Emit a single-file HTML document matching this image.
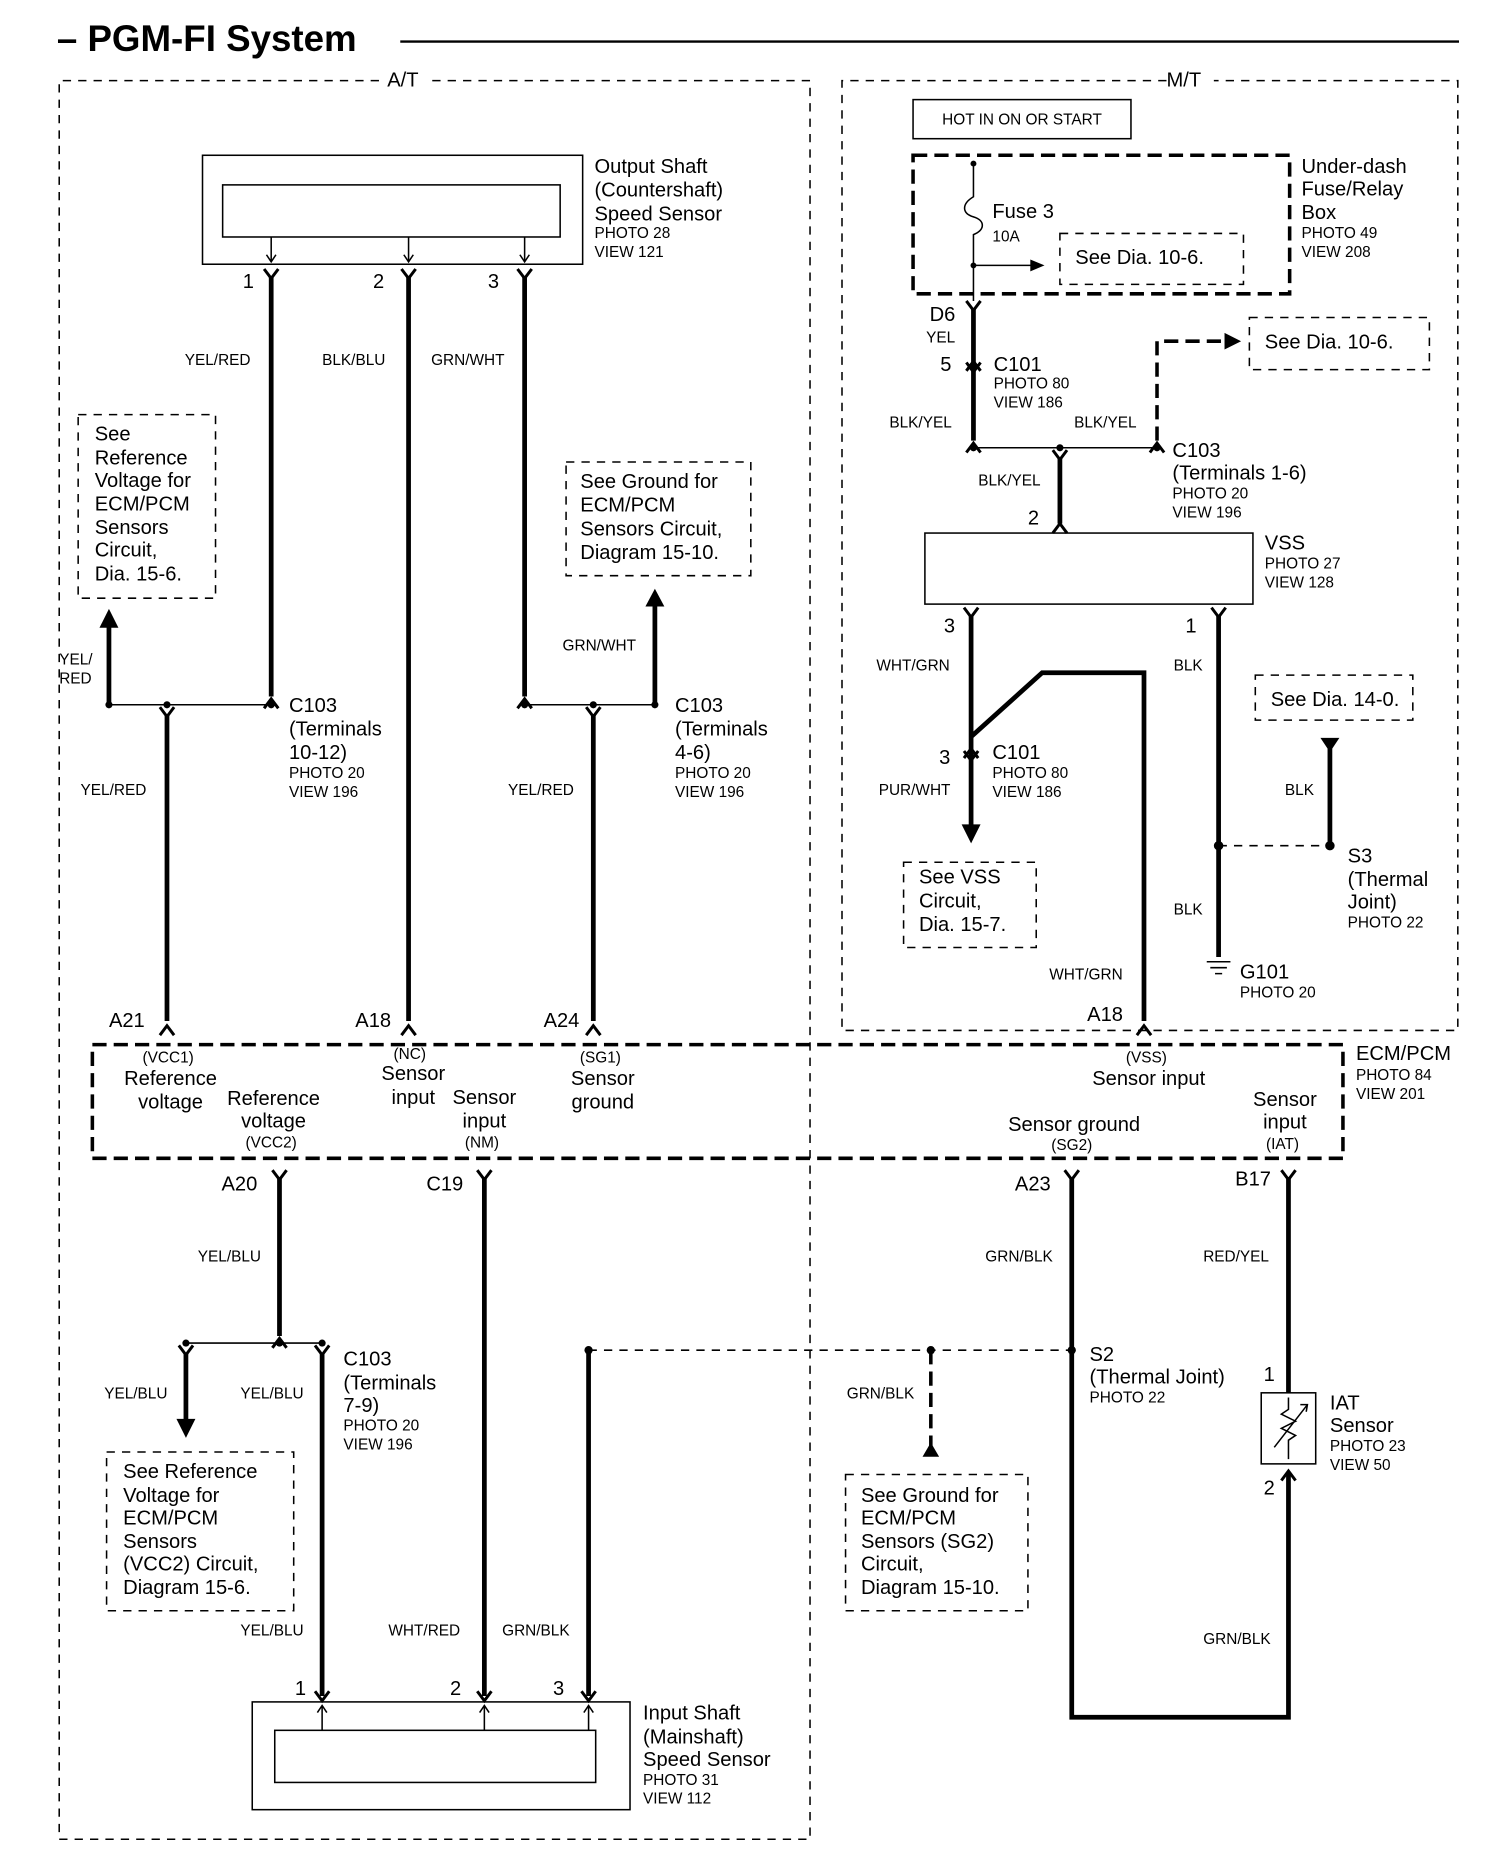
<!DOCTYPE html>
<html><head><meta charset="utf-8"><style>
html,body{margin:0;padding:0;background:#fff;}
svg{display:block;}
text{font-family:"Liberation Sans",Arial,sans-serif;fill:#000;}
.m{font-size:17px;}
.s{font-size:13px;}
.w{stroke:#000;stroke-width:4;fill:none;}
.t{stroke:#000;stroke-width:1.3;fill:none;}
.d{stroke:#000;stroke-width:1.3;fill:none;stroke-dasharray:7,6;}
.dt{stroke:#000;stroke-width:3;fill:none;stroke-dasharray:12,6;}
</style></head><body>
<svg width="1504" height="1856" viewBox="0 0 1270 1567" xmlns="http://www.w3.org/2000/svg">
<defs>
<g id="fk"><path d="M-6,-6 L0,2 L6,-6" stroke="#000" stroke-width="2.5" fill="none"/></g>
<g id="fu"><path d="M-6,6 L0,-2 L6,6" stroke="#000" stroke-width="2.5" fill="none"/></g>
</defs>
<text x="48" y="43" style="font-size:31px;font-weight:bold">– PGM-FI System</text>
<line x1="338" y1="35" x2="1232" y2="35" stroke="#000" stroke-width="2"/>
<path class="d" d="M320,68 L50,68 L50,1553 L684,1553 L684,68 L360,68"/>
<text x="327" y="73" class="m">A/T</text>
<path class="d" d="M985,68 L711,68 L711,870 L1231,870 L1231,68 L1025,68"/>
<text x="985" y="73" class="m">M/T</text>

<rect x="171" y="131" width="321" height="92" class="t" stroke-width="3"/>
<rect x="188" y="156" width="285" height="44" class="t" stroke-width="2"/>
<g class="t"><line x1="229" y1="200" x2="229" y2="221"/><line x1="345" y1="200" x2="345" y2="221"/><line x1="443" y1="200" x2="443" y2="221"/></g>
<path d="M225,215 L229,221 L233,215 M341,215 L345,221 L349,215 M439,215 L443,221 L447,215" class="t"/>
<text x="502" y="146" class="m">Output Shaft</text><text x="502" y="166" class="m">(Countershaft)</text><text x="502" y="186" class="m">Speed Sensor</text>
<text x="502" y="201" class="s">PHOTO 28</text><text x="502" y="217" class="s">VIEW 121</text>
<use href="#fk" x="229" y="233"/><use href="#fk" x="345" y="233"/><use href="#fk" x="443" y="233"/>
<text x="205" y="243" class="m">1</text><text x="315" y="243" class="m">2</text><text x="412" y="243" class="m">3</text>
<line class="w" x1="229" y1="233" x2="229" y2="588"/>
<line class="w" x1="345" y1="233" x2="345" y2="862"/>
<line class="w" x1="443" y1="233" x2="443" y2="588"/>
<text x="156" y="308" class="s">YEL/RED</text><text x="272" y="308" class="s">BLK/BLU</text><text x="364" y="308" class="s">GRN/WHT</text>
<use href="#fu" x="229" y="592"/><use href="#fu" x="443" y="592"/>

<line class="t" x1="92" y1="595" x2="229" y2="595"/>
<circle cx="92" cy="595" r="3"/><circle cx="141" cy="595" r="3"/><circle cx="229" cy="595" r="3"/>
<line class="w" x1="92" y1="595" x2="92" y2="528"/>
<path d="M84,530 L92,514 L100,530 Z"/>
<text x="50" y="561" class="s">YEL/</text><text x="50" y="577" class="s">RED</text>
<use href="#fk" x="141" y="603"/>
<line class="w" x1="141" y1="603" x2="141" y2="862"/>
<text x="68" y="671" class="s">YEL/RED</text>
<text x="244" y="601" class="m">C103</text><text x="244" y="621" class="m">(Terminals</text><text x="244" y="641" class="m">10-12)</text>
<text x="244" y="657" class="s">PHOTO 20</text><text x="244" y="673" class="s">VIEW 196</text>
<path class="d" d="M66,350 L182,350 L182,505 L66,505 Z"/>
<text x="80" y="372" class="m">See</text><text x="80" y="392" class="m">Reference</text><text x="80" y="411" class="m">Voltage for</text><text x="80" y="431" class="m">ECM/PCM</text><text x="80" y="451" class="m">Sensors</text><text x="80" y="470" class="m">Circuit,</text><text x="80" y="490" class="m">Dia. 15-6.</text>

<line class="t" x1="443" y1="595" x2="553" y2="595"/>
<circle cx="443" cy="595" r="3"/><circle cx="501" cy="595" r="3"/><circle cx="553" cy="595" r="3"/>
<line class="w" x1="553" y1="595" x2="553" y2="510"/>
<path d="M545,512 L553,497 L561,512 Z"/>
<text x="475" y="549" class="s">GRN/WHT</text>
<use href="#fk" x="501" y="603"/>
<line class="w" x1="501" y1="603" x2="501" y2="862"/>
<text x="429" y="671" class="s">YEL/RED</text>
<text x="570" y="601" class="m">C103</text><text x="570" y="621" class="m">(Terminals</text><text x="570" y="641" class="m">4-6)</text>
<text x="570" y="657" class="s">PHOTO 20</text><text x="570" y="673" class="s">VIEW 196</text>
<path class="d" d="M478,390 L634,390 L634,486 L478,486 Z"/>
<text x="490" y="412" class="m">See Ground for</text><text x="490" y="432" class="m">ECM/PCM</text><text x="490" y="452" class="m">Sensors Circuit,</text><text x="490" y="472" class="m">Diagram 15-10.</text>

<use href="#fu" x="141" y="868"/><use href="#fu" x="345" y="868"/><use href="#fu" x="501" y="868"/><use href="#fu" x="966" y="868"/>
<text x="92" y="867" class="m">A21</text><text x="300" y="867" class="m">A18</text><text x="459" y="867" class="m">A24</text><text x="918" y="862" class="m">A18</text>

<rect x="78" y="882" width="1056" height="96" class="dt"/>
<text x="142" y="897" class="s" text-anchor="middle">(VCC1)</text>
<text x="144" y="916" class="m" text-anchor="middle">Reference</text><text x="144" y="936" class="m" text-anchor="middle">voltage</text>
<text x="231" y="933" class="m" text-anchor="middle">Reference</text><text x="231" y="952" class="m" text-anchor="middle">voltage</text>
<text x="229" y="969" class="s" text-anchor="middle">(VCC2)</text>
<text x="346" y="894" class="s" text-anchor="middle">(NC)</text>
<text x="349" y="912" class="m" text-anchor="middle">Sensor</text><text x="349" y="932" class="m" text-anchor="middle">input</text>
<text x="409" y="932" class="m" text-anchor="middle">Sensor</text><text x="409" y="952" class="m" text-anchor="middle">input</text>
<text x="407" y="969" class="s" text-anchor="middle">(NM)</text>
<text x="507" y="897" class="s" text-anchor="middle">(SG1)</text>
<text x="509" y="916" class="m" text-anchor="middle">Sensor</text><text x="509" y="936" class="m" text-anchor="middle">ground</text>
<text x="968" y="897" class="s" text-anchor="middle">(VSS)</text>
<text x="970" y="916" class="m" text-anchor="middle">Sensor input</text>
<text x="907" y="955" class="m" text-anchor="middle">Sensor ground</text>
<text x="905" y="971" class="s" text-anchor="middle">(SG2)</text>
<text x="1085" y="934" class="m" text-anchor="middle">Sensor</text><text x="1085" y="953" class="m" text-anchor="middle">input</text>
<text x="1083" y="970" class="s" text-anchor="middle">(IAT)</text>
<text x="1145" y="895" class="m">ECM/PCM</text><text x="1145" y="912" class="s">PHOTO 84</text><text x="1145" y="928" class="s">VIEW 201</text>

<use href="#fk" x="236" y="994"/><use href="#fk" x="409" y="994"/><use href="#fk" x="905" y="994"/><use href="#fk" x="1088" y="994"/>
<text x="187" y="1005" class="m">A20</text><text x="360" y="1005" class="m">C19</text><text x="857" y="1005" class="m">A23</text><text x="1043" y="1001" class="m">B17</text>
<line class="w" x1="236" y1="994" x2="236" y2="1128"/>
<text x="167" y="1065" class="s">YEL/BLU</text>
<use href="#fu" x="236" y="1132"/>
<line class="t" x1="157" y1="1134" x2="272" y2="1134"/>
<circle cx="157" cy="1134" r="3"/><circle cx="236" cy="1134" r="3"/><circle cx="272" cy="1134" r="3"/>
<use href="#fk" x="157" y="1142"/><use href="#fk" x="272" y="1142"/>
<line class="w" x1="157" y1="1142" x2="157" y2="1200"/>
<path d="M149,1198 L157,1214 L165,1198 Z"/>
<text x="88" y="1181" class="s">YEL/BLU</text><text x="203" y="1181" class="s">YEL/BLU</text>
<path class="d" d="M90,1226 L248,1226 L248,1360 L90,1360 Z"/>
<text x="104" y="1248" class="m">See Reference</text><text x="104" y="1268" class="m">Voltage for</text><text x="104" y="1287" class="m">ECM/PCM</text><text x="104" y="1307" class="m">Sensors</text><text x="104" y="1326" class="m">(VCC2) Circuit,</text><text x="104" y="1346" class="m">Diagram 15-6.</text>
<line class="w" x1="272" y1="1142" x2="272" y2="1432"/>
<text x="203" y="1381" class="s">YEL/BLU</text>
<text x="290" y="1153" class="m">C103</text><text x="290" y="1173" class="m">(Terminals</text><text x="290" y="1192" class="m">7-9)</text>
<text x="290" y="1208" class="s">PHOTO 20</text><text x="290" y="1224" class="s">VIEW 196</text>
<line class="w" x1="409" y1="994" x2="409" y2="1432"/>
<text x="328" y="1381" class="s">WHT/RED</text>
<line class="w" x1="497" y1="1140" x2="497" y2="1432"/>
<text x="424" y="1381" class="s">GRN/BLK</text>
<line class="d" x1="497" y1="1140" x2="905" y2="1140"/>
<circle cx="497" cy="1140" r="3.5"/><circle cx="786" cy="1140" r="3.5"/><circle cx="905" cy="1140" r="3.5"/>
<line class="dt" x1="786" y1="1140" x2="786" y2="1222" stroke-width="4"/>
<path d="M779,1230 L786,1218 L793,1230 Z"/>
<text x="715" y="1181" class="s">GRN/BLK</text>
<path class="d" d="M714,1245 L868,1245 L868,1360 L714,1360 Z"/>
<text x="727" y="1268" class="m">See Ground for</text><text x="727" y="1287" class="m">ECM/PCM</text><text x="727" y="1307" class="m">Sensors (SG2)</text><text x="727" y="1326" class="m">Circuit,</text><text x="727" y="1346" class="m">Diagram 15-10.</text>

<use href="#fk" x="272" y="1434"/><use href="#fk" x="409" y="1434"/><use href="#fk" x="497" y="1434"/>
<text x="249" y="1431" class="m">1</text><text x="380" y="1431" class="m">2</text><text x="467" y="1431" class="m">3</text>
<rect x="213" y="1437" width="319" height="91" class="t" stroke-width="3"/>
<rect x="232" y="1461" width="271" height="44" class="t" stroke-width="2"/>
<path class="t" d="M272,1440 L272,1461 M409,1440 L409,1461 M497,1440 L497,1461 M268,1446 L272,1440 L276,1446 M405,1446 L409,1440 L413,1446 M493,1446 L497,1440 L501,1446"/>
<text x="543" y="1452" class="m">Input Shaft</text><text x="543" y="1472" class="m">(Mainshaft)</text><text x="543" y="1491" class="m">Speed Sensor</text>
<text x="543" y="1507" class="s">PHOTO 31</text><text x="543" y="1523" class="s">VIEW 112</text>

<path class="w" d="M905,994 L905,1450 L1088,1450 L1088,1244"/>
<text x="832" y="1065" class="s">GRN/BLK</text>
<text x="920" y="1149" class="m">S2</text><text x="920" y="1168" class="m">(Thermal Joint)</text><text x="920" y="1184" class="s">PHOTO 22</text>
<line class="w" x1="1088" y1="994" x2="1088" y2="1176"/>
<text x="1016" y="1065" class="s">RED/YEL</text>
<text x="1067" y="1166" class="m">1</text><text x="1067" y="1262" class="m">2</text>
<rect x="1065" y="1176" width="46" height="60" class="t" stroke-width="3"/>
<path class="t" d="M1088,1180 L1088,1190 L1082,1194 L1094,1200 L1082,1206 L1094,1212 L1088,1216 L1088,1232 M1076,1222 L1104,1186 M1098,1186 L1104,1186 L1103,1192" stroke-width="1.5"/>
<use href="#fu" x="1088" y="1244"/>
<text x="1016" y="1388" class="s">GRN/BLK</text>
<text x="1123" y="1190" class="m">IAT</text><text x="1123" y="1209" class="m">Sensor</text><text x="1123" y="1225" class="s">PHOTO 23</text><text x="1123" y="1241" class="s">VIEW 50</text>

<rect x="771" y="84" width="184" height="33" class="t" stroke-width="2"/>
<text x="863" y="105" class="s" text-anchor="middle">HOT IN ON OR START</text>
<rect x="771" y="131" width="318" height="117" class="dt"/>
<text x="1099" y="146" class="m">Under-dash</text><text x="1099" y="165" class="m">Fuse/Relay</text><text x="1099" y="185" class="m">Box</text>
<text x="1099" y="201" class="s">PHOTO 49</text><text x="1099" y="217" class="s">VIEW 208</text>
<circle cx="822" cy="138" r="2.5"/>
<path class="t" d="M822,138 L822,166 C812,172 812,180 822,183 C832,186 832,194 822,198 L822,254" stroke-width="1.6"/>
<text x="838" y="184" class="m">Fuse 3</text><text x="838" y="204" class="s">10A</text>
<circle cx="822" cy="224" r="2.5"/>
<line class="t" x1="822" y1="224" x2="872" y2="224"/>
<path d="M870,219 L882,224 L870,229 Z"/>
<path class="d" d="M895,197 L1050,197 L1050,240 L895,240 Z"/>
<text x="908" y="223" class="m">See Dia. 10-6.</text>
<use href="#fk" x="822" y="260"/>
<text x="785" y="271" class="m">D6</text><text x="782" y="289" class="s">YEL</text>
<line class="w" x1="822" y1="260" x2="822" y2="372"/>
<use href="#fu" x="822" y="307"/><use href="#fk" x="822" y="312"/>
<text x="794" y="313" class="m">5</text>
<text x="839" y="313" class="m">C101</text><text x="839" y="328" class="s">PHOTO 80</text><text x="839" y="344" class="s">VIEW 186</text>
<text x="751" y="361" class="s">BLK/YEL</text>
<use href="#fu" x="822" y="376"/>
<line class="t" x1="822" y1="378" x2="977" y2="378"/>
<circle cx="822" cy="378" r="3"/><circle cx="895" cy="378" r="3"/><circle cx="977" cy="378" r="3"/>
<use href="#fu" x="977" y="376"/>
<path class="dt" d="M977,372 L977,288 L1036,288" stroke-width="4"/>
<path d="M1034,281 L1048,288 L1034,295 Z"/>
<path class="d" d="M1055,268 L1207,268 L1207,312 L1055,312 Z"/>
<text x="1068" y="294" class="m">See Dia. 10-6.</text>
<text x="907" y="361" class="s">BLK/YEL</text>
<text x="990" y="386" class="m">C103</text><text x="990" y="405" class="m">(Terminals 1-6)</text>
<text x="990" y="421" class="s">PHOTO 20</text><text x="990" y="437" class="s">VIEW 196</text>
<use href="#fk" x="895" y="386"/>
<line class="w" x1="895" y1="386" x2="895" y2="442"/>
<use href="#fu" x="895" y="444"/>
<text x="826" y="410" class="s">BLK/YEL</text>
<text x="868" y="443" class="m">2</text>
<rect x="781" y="450" width="277" height="60" class="t" stroke-width="2"/>
<text x="1068" y="464" class="m">VSS</text><text x="1068" y="480" class="s">PHOTO 27</text><text x="1068" y="496" class="s">VIEW 128</text>
<use href="#fk" x="820" y="519"/><use href="#fk" x="1029" y="519"/>
<text x="797" y="534" class="m">3</text><text x="1001" y="534" class="m">1</text>
<line class="w" x1="820" y1="519" x2="820" y2="698"/>
<path d="M812,696 L820,712 L828,696 Z"/>
<text x="740" y="566" class="s">WHT/GRN</text>
<path class="w" d="M820,622 L880,568 L966,568 L966,862"/>
<use href="#fu" x="820" y="634"/><use href="#fk" x="820" y="640"/>
<text x="793" y="645" class="m">3</text>
<text x="838" y="641" class="m">C101</text><text x="838" y="657" class="s">PHOTO 80</text><text x="838" y="673" class="s">VIEW 186</text>
<text x="742" y="671" class="s">PUR/WHT</text>
<path class="d" d="M763,728 L875,728 L875,800 L763,800 Z"/>
<text x="776" y="746" class="m">See VSS</text><text x="776" y="766" class="m">Circuit,</text><text x="776" y="786" class="m">Dia. 15-7.</text>
<text x="886" y="827" class="s">WHT/GRN</text>
<line class="w" x1="1029" y1="519" x2="1029" y2="808"/>
<text x="991" y="566" class="s">BLK</text><text x="991" y="772" class="s">BLK</text>
<circle cx="1029" cy="714" r="4"/><circle cx="1123" cy="714" r="4"/>
<line class="d" x1="1029" y1="714" x2="1123" y2="714"/>
<line class="w" x1="1123" y1="714" x2="1123" y2="632"/>
<path d="M1115,623 L1131,623 L1123,635 Z"/>
<path class="d" d="M1060,570 L1193,570 L1193,608 L1060,608 Z"/>
<text x="1073" y="596" class="m">See Dia. 14-0.</text>
<text x="1085" y="671" class="s">BLK</text>
<text x="1138" y="728" class="m">S3</text><text x="1138" y="748" class="m">(Thermal</text><text x="1138" y="767" class="m">Joint)</text><text x="1138" y="783" class="s">PHOTO 22</text>
<path class="t" d="M1019,812 L1039,812 M1022,817 L1036,817 M1026,822 L1032,822" stroke-width="2"/>
<text x="1047" y="826" class="m">G101</text><text x="1047" y="842" class="s">PHOTO 20</text>
</svg>
</body></html>
